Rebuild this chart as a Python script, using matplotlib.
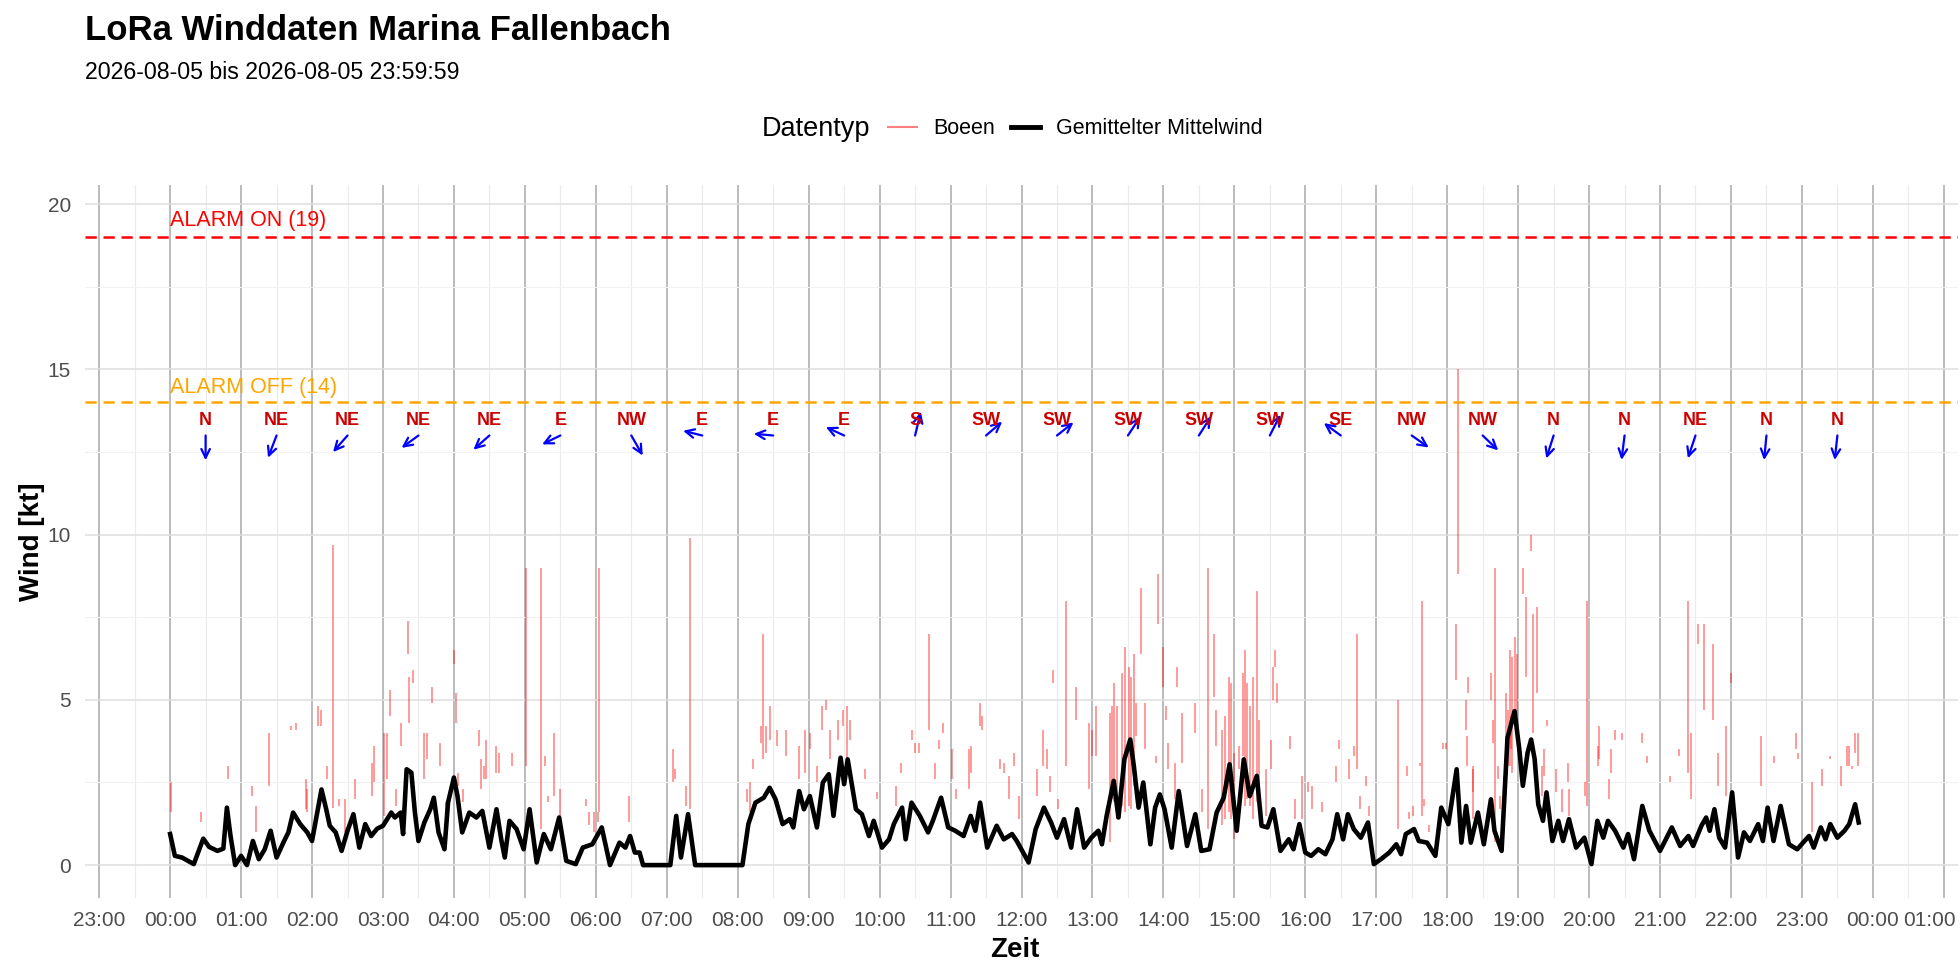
import numpy as np
import matplotlib
matplotlib.use("Agg")
import matplotlib.pyplot as plt
import matplotlib.transforms as mtransforms
from matplotlib.lines import Line2D
from matplotlib.ticker import FixedLocator, MultipleLocator

plt.rcParams['font.family'] = ['Liberation Sans', 'DejaVu Sans']

# ---------------- data ----------------
title = "LoRa Winddaten Marina Fallenbach"
subtitle = "2026-08-05 bis 2026-08-05 23:59:59"

alarm_on = 19
alarm_off = 14

# mean wind (Gemittelter Mittelwind), time "HH:MM", value kt
mean_time = [
    "00:00", "00:04", "00:10", "00:20", "00:28", "00:33", "00:40", "00:45", "00:48", "00:51", "00:55",
    "01:00", "01:05", "01:10", "01:15", "01:20", "01:25", "01:30", "01:36", "01:40", "01:44", "01:50", "01:56",
    "02:00", "02:08", "02:12", "02:15", "02:20", "02:25", "02:30", "02:35", "02:40", "02:45", "02:50", "02:55",
    "03:00", "03:07", "03:10", "03:15", "03:17", "03:20", "03:24", "03:27", "03:30", "03:35", "03:40", "03:43",
    "03:47", "03:52", "03:55",
    "04:00", "04:03", "04:07", "04:13", "04:19", "04:24", "04:30", "04:36", "04:40", "04:43", "04:47", "04:53", "04:59",
    "05:04", "05:10", "05:16", "05:22", "05:29", "05:35", "05:43", "05:49", "05:57",
    "06:05", "06:12", "06:20", "06:25", "06:29", "06:33", "06:37", "06:40",
    "07:03", "07:08", "07:12", "07:18", "07:24",
    "08:04", "08:09", "08:15", "08:22", "08:27", "08:32", "08:38", "08:44", "08:47", "08:52", "08:56",
    "09:01", "09:07", "09:12", "09:17", "09:21", "09:27", "09:30", "09:33", "09:40", "09:45", "09:51", "09:55",
    "10:02", "10:08", "10:12", "10:19", "10:22", "10:27", "10:34", "10:41", "10:45", "10:52", "10:58",
    "11:04", "11:11", "11:17", "11:21", "11:25", "11:31", "11:39", "11:45", "11:52", "11:56",
    "12:06", "12:12", "12:19", "12:25", "12:30", "12:36", "12:42", "12:47", "12:53", "12:59",
    "13:05", "13:08", "13:12", "13:18", "13:22", "13:27", "13:32", "13:35", "13:39", "13:43", "13:49", "13:53", "13:57",
    "14:01", "14:07", "14:13", "14:20", "14:27", "14:32", "14:39", "14:45", "14:51", "14:56",
    "15:02", "15:08", "15:13", "15:19", "15:23", "15:28", "15:33", "15:39", "15:46", "15:50", "15:55",
    "16:00", "16:05", "16:11", "16:17", "16:23", "16:27", "16:32", "16:36", "16:41", "16:47", "16:53", "16:58",
    "17:04", "17:11", "17:17", "17:21", "17:25", "17:32", "17:36", "17:43", "17:50", "17:55",
    "18:01", "18:08", "18:12", "18:16", "18:20", "18:26", "18:31", "18:37", "18:40", "18:46", "18:51", "18:57",
    "19:01", "19:04", "19:08", "19:11", "19:14", "19:17", "19:21", "19:24", "19:29", "19:34", "19:38", "19:43",
    "19:49", "19:56",
    "20:02", "20:07", "20:12", "20:16", "20:22", "20:29", "20:33", "20:38", "20:45", "20:51",
    "21:00", "21:10", "21:17", "21:24", "21:28", "21:35", "21:39", "21:42", "21:46", "21:50", "21:55",
    "22:01", "22:06", "22:11", "22:16", "22:23", "22:27", "22:31", "22:36", "22:42", "22:49", "22:56",
    "23:06", "23:10", "23:16", "23:20", "23:24", "23:30", "23:36", "23:40", "23:45", "23:48",
]
mean_kt = [
    0.94, 0.28, 0.23, 0.03, 0.80, 0.55, 0.43, 0.50, 1.74, 0.90, 0.00,
    0.28, 0.00, 0.73, 0.18, 0.48, 1.04, 0.23, 0.70, 0.99, 1.59, 1.24, 0.99,
    0.73, 2.29, 1.69, 1.19, 0.99, 0.43, 1.04, 1.54, 0.53, 1.24, 0.88, 1.10,
    1.19, 1.59, 1.44, 1.59, 0.94, 2.90, 2.80, 1.59, 0.73, 1.29, 1.69, 2.04,
    0.99, 0.48, 1.89,
    2.65, 2.09, 0.99, 1.59, 1.44, 1.64, 0.53, 1.69, 0.78, 0.23, 1.34, 1.09, 0.48,
    1.69, 0.08, 0.94, 0.48, 1.44, 0.13, 0.03, 0.53, 0.63,
    1.14, 0.00, 0.68, 0.53, 0.88, 0.38, 0.38, 0.00,
    0.00, 1.49, 0.23, 1.54, 0.00,
    0.00, 1.24, 1.89, 2.04, 2.34, 1.99, 1.24, 1.39, 1.14, 2.24, 1.69,
    2.09, 1.14, 2.50, 2.75, 1.49, 3.25, 2.45, 3.20, 1.69, 1.54, 0.88, 1.34,
    0.53, 0.78, 1.24, 1.74, 0.78, 1.89, 1.49, 0.99, 1.34, 2.04, 1.14,
    1.04, 0.88, 1.49, 1.04, 1.89, 0.53, 1.19, 0.78, 0.94, 0.73,
    0.08, 1.09, 1.74, 1.29, 0.83, 1.39, 0.53, 1.69, 0.53, 0.83,
    1.04, 0.63, 1.49, 2.55, 1.44, 3.20, 3.80, 3.00, 1.74, 2.50, 0.63, 1.74, 2.14,
    1.69, 0.53, 2.24, 0.58, 1.54, 0.43, 0.48, 1.59, 2.04, 3.05,
    1.04, 3.20, 2.09, 2.70, 1.19, 1.14, 1.69, 0.43, 0.78, 0.48, 1.24,
    0.38, 0.28, 0.48, 0.33, 0.78, 1.54, 0.78, 1.54, 1.09, 0.83, 1.29, 0.03,
    0.18, 0.38, 0.63, 0.33, 0.94, 1.09, 0.73, 0.68, 0.28, 1.74,
    1.24, 2.90, 0.68, 1.79, 0.68, 1.59, 0.63, 1.99, 1.04, 0.43, 3.85, 4.66,
    3.50, 2.40, 3.40, 3.80, 3.20, 1.84, 1.34, 2.20, 0.73, 1.34, 0.73, 1.39,
    0.53, 0.83,
    0.03, 1.34, 0.83, 1.34, 1.04, 0.53, 0.94, 0.18, 1.79, 1.04,
    0.43, 1.14, 0.58, 0.88, 0.58, 1.19, 1.44, 1.04, 1.69, 0.83, 0.53,
    2.20, 0.23, 0.99, 0.73, 1.24, 0.73, 1.74, 0.73, 1.79, 0.63, 0.48,
    0.88, 0.53, 1.14, 0.78, 1.24, 0.83, 1.04, 1.24, 1.84, 1.29,
]

# gusts (Boeen): visible gust segments, time [h], low [kt], high [kt]
gust_time = [
    0.01, 0.43, 0.81, 1.15, 1.21, 1.39, 1.70, 1.77, 1.91, 1.93, 2.08, 2.12, 2.21, 2.29, 2.38, 2.46, 2.61,
    2.84, 2.87, 3.02, 3.05, 3.10, 3.18, 3.26, 3.35, 3.37, 3.42, 3.58, 3.62, 3.69, 3.80, 3.89,
    4.00, 4.03, 4.06, 4.13, 4.35, 4.38, 4.42, 4.45, 4.59, 4.64, 4.82,
    5.02, 5.23, 5.29, 5.32, 5.41, 5.50, 5.86, 5.90, 5.97, 6.03, 6.05, 6.47,
    7.09, 7.12, 7.27, 7.33,
    8.13, 8.18, 8.21, 8.33, 8.36, 8.40, 8.46, 8.55, 8.68, 8.87, 8.95,
    9.02, 9.12, 9.19, 9.25, 9.30, 9.42, 9.48, 9.54, 9.58, 9.80, 9.97,
    10.23, 10.30, 10.46, 10.50, 10.56, 10.69, 10.78, 10.84, 10.90,
    11.02, 11.07, 11.26, 11.29, 11.41, 11.44, 11.70, 11.76, 11.83, 11.90, 11.97,
    12.22, 12.31, 12.36, 12.40, 12.45, 12.52, 12.63, 12.77, 12.95, 12.99,
    13.05, 13.25, 13.28, 13.30, 13.35, 13.41, 13.46, 13.51, 13.55, 13.59, 13.62, 13.69, 13.74, 13.90, 13.92,
    14.00, 14.04, 14.07, 14.17, 14.19, 14.26, 14.45, 14.54, 14.63, 14.72, 14.74, 14.82, 14.87, 14.92, 14.95, 14.99,
    15.06, 15.12, 15.15, 15.18, 15.22, 15.27, 15.32, 15.35, 15.44, 15.52, 15.54, 15.57, 15.60, 15.78, 15.86, 15.95,
    16.04, 16.09, 16.23, 16.43, 16.48, 16.61, 16.69, 16.73, 16.77, 16.86, 16.90,
    17.30, 17.44, 17.46, 17.52, 17.62, 17.64, 17.68, 17.74, 17.94, 17.98,
    18.12, 18.15, 18.26, 18.28, 18.30, 18.36, 18.37, 18.62, 18.64, 18.67, 18.72, 18.75,
    18.83, 18.86, 18.88, 18.90, 18.92, 18.96, 18.99,
    19.07, 19.11, 19.18, 19.21, 19.26, 19.34, 19.37, 19.40, 19.53, 19.62, 19.70, 19.71, 19.94, 19.97,
    20.12, 20.14, 20.28, 20.31, 20.37, 20.47, 20.75, 20.81,
    21.14, 21.27, 21.39, 21.44, 21.54, 21.62, 21.75, 21.82, 21.93,
    22.00, 22.42, 22.60, 22.91, 22.94,
    23.14, 23.29, 23.39, 23.55, 23.63, 23.67, 23.71, 23.75, 23.79,
]
gust_lo = [
    1.6, 1.3, 2.6, 2.1, 1.0, 2.4, 4.1, 4.1, 1.7, 1.6, 4.2, 4.2, 2.6, 1.74, 1.8, 1.0, 2.0,
    2.1, 2.5, 1.5, 2.6, 4.5, 1.8, 3.6, 6.4, 4.3, 5.5, 2.6, 3.2, 4.9, 3.0, 1.0,
    6.1, 4.3, 2.4, 1.9, 3.6, 2.3, 2.6, 2.6, 2.8, 2.8, 3.0,
    3.0, 1.1, 3.0, 1.9, 2.1, 1.5, 1.8, 1.2, 1.0, 1.3, 1.6, 1.3,
    2.5, 2.6, 1.8, 1.7,
    1.9, 1.6, 2.9, 3.7, 3.2, 3.4, 3.8, 3.6, 3.3, 2.6, 2.8,
    3.5, 2.5, 4.1, 4.7, 3.2, 3.8, 4.2, 3.2, 3.8, 2.6, 2.0,
    1.8, 2.8, 3.8, 3.4, 3.4, 4.1, 2.6, 3.5, 4.0,
    2.6, 2.0, 2.3, 2.8, 4.2, 4.1, 2.9, 2.8, 2.0, 3.0, 1.4,
    2.1, 3.0, 2.9, 2.2, 5.5, 1.7, 3.0, 4.4, 2.3, 3.3,
    3.3, 0.7, 2.0, 1.9, 1.4, 1.8, 1.6, 1.8, 1.7, 2.4, 3.9, 6.4, 3.5, 3.1, 7.3,
    5.4, 4.4, 2.9, 2.0, 5.4, 3.1, 4.0, 1.6, 1.1, 5.1, 3.6, 1.2, 1.4, 1.6, 1.4, 0.8,
    2.9, 3.3, 1.8, 2.0, 1.8, 1.4, 1.9, 2.3, 1.5, 2.9, 5.0, 6.0, 4.9, 3.5, 1.4, 1.4,
    2.2, 1.7, 1.6, 2.5, 3.5, 2.6, 3.3, 2.9, 1.7, 2.4, 1.5,
    1.1, 2.7, 1.4, 1.5, 3.0, 1.5, 1.8, 1.0, 3.5, 3.5,
    5.6, 8.8, 4.1, 3.0, 5.2, 1.4, 2.2, 5.0, 3.7, 0.7, 2.6, 1.7,
    3.4, 3.0, 3.0, 3.5, 2.8, 4.2, 4.5,
    8.2, 5.7, 9.5, 4.0, 5.2, 2.1, 2.7, 4.2, 2.2, 1.6, 2.5, 1.5, 2.1, 1.8,
    3.0, 3.2, 2.0, 2.8, 3.8, 3.8, 3.7, 3.1,
    2.5, 3.3, 2.8, 2.0, 6.7, 4.7, 4.4, 2.4, 2.1,
    5.5, 2.4, 3.1, 3.5, 3.2,
    1.0, 2.4, 3.2, 2.4, 3.0, 3.0, 2.9, 3.4, 3.0,
]
gust_hi = [
    2.5, 1.6, 3.0, 2.4, 1.8, 4.0, 4.2, 4.3, 2.6, 2.3, 4.8, 4.7, 3.0, 9.7, 2.0, 2.0, 2.6,
    3.1, 3.6, 4.0, 4.0, 5.3, 2.3, 4.3, 7.4, 5.7, 5.9, 4.0, 4.0, 5.4, 3.7, 1.9,
    6.5, 5.2, 2.8, 2.3, 4.1, 3.2, 3.0, 3.8, 3.6, 3.4, 3.4,
    9.0, 9.0, 3.3, 2.1, 4.0, 2.3, 2.0, 1.6, 1.6, 1.6, 9.0, 2.1,
    3.5, 2.9, 2.4, 9.9,
    2.3, 2.5, 3.2, 4.2, 7.0, 4.2, 4.8, 4.1, 4.1, 3.6, 4.1,
    4.0, 3.0, 4.8, 5.0, 4.1, 4.4, 4.7, 4.8, 4.4, 2.9, 2.2,
    2.4, 3.1, 4.1, 3.7, 3.7, 7.0, 3.1, 3.8, 4.3,
    3.5, 2.3, 3.5, 3.6, 4.9, 4.5, 3.2, 3.1, 2.7, 3.4, 2.1,
    2.9, 4.1, 3.5, 2.7, 5.9, 2.0, 8.0, 5.4, 4.3, 4.1,
    4.8, 4.6, 4.8, 5.5, 4.8, 5.8, 6.6, 6.0, 5.7, 6.4, 4.9, 8.4, 4.9, 3.3, 8.8,
    6.6, 4.8, 3.7, 3.1, 6.0, 4.6, 4.9, 2.3, 9.0, 7.0, 4.7, 4.1, 4.5, 5.7, 5.5, 3.4,
    3.6, 5.8, 6.5, 5.5, 4.8, 5.7, 8.3, 4.4, 2.9, 3.8, 6.0, 6.5, 5.5, 3.9, 2.0, 2.7,
    2.5, 2.4, 1.9, 3.0, 3.8, 3.2, 3.6, 7.0, 2.1, 2.7, 1.8,
    5.0, 3.0, 1.6, 1.8, 3.1, 8.0, 2.0, 1.2, 3.7, 3.7,
    7.3, 15.0, 5.0, 3.9, 5.7, 3.0, 2.9, 5.8, 4.4, 9.0, 3.0, 2.1,
    5.2, 4.7, 6.5, 4.5, 6.3, 6.9, 6.4,
    9.0, 8.1, 10.0, 7.6, 7.8, 3.0, 3.5, 4.4, 2.9, 2.3, 3.1, 2.3, 2.5, 8.0,
    3.6, 4.2, 2.6, 3.5, 4.1, 4.0, 4.0, 3.3,
    2.7, 3.5, 8.0, 4.0, 7.3, 7.3, 6.7, 3.4, 4.2,
    5.8, 3.9, 3.3, 4.0, 3.4,
    2.5, 2.9, 3.3, 3.0, 3.6, 3.6, 3.0, 4.0, 4.0,
]

# hourly wind direction (from), plotted at the half hour
dir_hour = list(range(24))
dir_label = ['N', 'NE', 'NE', 'NE', 'NE', 'E', 'NW', 'E', 'E', 'E', 'S', 'SW',
             'SW', 'SW', 'SW', 'SW', 'SE', 'NW', 'NW', 'N', 'N', 'NE', 'N', 'N']
dir_deg = [0, 26, 48, 60, 55, 69, 324, 101, 94, 110, 197, 236,
           238, 220, 219, 213, 120, 299, 307, 22, 9, 23, 7, 8]

x_tick_hours = list(range(-1, 26))
y_ticks = [0, 5, 10, 15, 20]

# ---------------- helpers ----------------
def to_hours(s):
    h, m = s.split(":")
    return int(h) + int(m) / 60.0

mean_t = np.array([to_hours(s) for s in mean_time])
mean_v = np.array(mean_kt)

# ---------------- figure ----------------
W, H = 1960, 980
fig = plt.figure(figsize=(W / 100, H / 100), dpi=100)
px_l, px_r, px_t, px_b = 85, 1958, 185, 897.5
ax = fig.add_axes([px_l / W, 1 - px_b / H, (px_r - px_l) / W, (px_b - px_t) / H])

ax.set_xlim(-1.2, 25.2)
ax.set_ylim(-0.98, 20.58)
for s in ax.spines.values():
    s.set_visible(False)

ax.xaxis.set_major_locator(FixedLocator(x_tick_hours))
ax.xaxis.set_minor_locator(MultipleLocator(0.5))
ax.set_xticks(x_tick_hours)
ax.set_xticklabels(["%02d:00" % (h % 24) for h in x_tick_hours])
ax.set_yticks(y_ticks)
ax.yaxis.set_minor_locator(MultipleLocator(2.5))
ax.tick_params(which='both', length=0)
ax.tick_params(axis='x', which='major', labelsize=15, labelcolor='#4D4D4D', pad=10)
ax.tick_params(axis='y', which='major', labelsize=15, labelcolor='#4D4D4D', pad=10)

# keep the last (01:00) label inside the canvas
last_lbl = ax.get_xticklabels()[-1]
last_lbl.set_transform(last_lbl.get_transform() +
                       mtransforms.ScaledTranslation(-14 / 100, 0, fig.dpi_scale_trans))

ax.set_axisbelow(True)
ax.grid(which='major', axis='x', color='#B5B5B5', lw=1.3)
ax.grid(which='minor', axis='x', color='#EBEBEB', lw=0.8)
ax.grid(which='major', axis='y', color='#DEDEDE', lw=1.1)
ax.grid(which='minor', axis='y', color='#F2F2F2', lw=0.8)

# gusts
ax.vlines(gust_time, gust_lo, gust_hi, colors='#FF0000', alpha=0.5, lw=1.1, zorder=2)
# mean
ax.plot(mean_t, mean_v, color='black', lw=3.3, solid_joinstyle='round', zorder=3)

# alarm lines
ax.axhline(alarm_on, color='#FF0000', lw=1.8, ls=(0, (4.5, 2.7)), zorder=2)
ax.axhline(alarm_off, color='#FFA500', lw=1.8, ls=(0, (4.5, 2.7)), zorder=2)
ax.text(0, alarm_on + 0.5, "ALARM ON (%d)" % alarm_on, color='#FF0000', fontsize=15.5,
        ha='left', va='center')
ax.text(0, alarm_off + 0.45, "ALARM OFF (%d)" % alarm_off, color='#FFA500', fontsize=15.5,
        ha='left', va='center')

# direction labels and arrows
y_arrow = 13.0
for h, lab, d in zip(dir_hour, dir_label, dir_deg):
    x0 = h + 0.5
    r = np.deg2rad(d)
    x1 = x0 - 0.275 * np.sin(r)
    y1 = y_arrow - 0.75 * np.cos(r)
    ax.annotate("", xy=(x1, y1), xytext=(x0, y_arrow),
                arrowprops=dict(arrowstyle='->,head_length=0.45,head_width=0.22',
                                color='#0000FF', lw=1.6, shrinkA=0, shrinkB=0,
                                mutation_scale=14), zorder=4)
    ax.text(x0, 13.45, lab, color='#CC0000', fontsize=13, fontweight='bold',
            ha='center', va='center', zorder=5)

# axis titles
ax.set_xlabel("Zeit", fontsize=20, fontweight='bold')
ax.set_ylabel("Wind [kt]", fontsize=20, fontweight='bold')
ax.xaxis.set_label_coords(0.4966, -0.0737)
ax.yaxis.set_label_coords(-0.0283, 0.5)
ax.xaxis.label.set_va('center')
ax.yaxis.label.set_va('center')

# titles
fig.text(85 / W, 1 - 40 / H, title, fontsize=25, fontweight='bold', ha='left', va='baseline')
fig.text(85 / W, 1 - 79 / H, subtitle, fontsize=16.7, ha='left', va='baseline')

# legend
fig.text(762 / W, 1 - 129 / H, "Datentyp", fontsize=19.5, ha='left', va='center')
handles = [Line2D([], [], color='#FF0000', alpha=0.5, lw=1.5),
           Line2D([], [], color='black', lw=3.5)]
fig.legend(handles, ["Boeen", "Gemittelter Mittelwind"], loc='center left',
           bbox_to_anchor=(888 / W, 1 - 129 / H), ncol=2, frameon=False,
           fontsize=15.5, handlelength=1.35, handletextpad=0.75, columnspacing=0.75,
           borderpad=0, borderaxespad=0)

fig.savefig("out.png", dpi=100, facecolor='white')
